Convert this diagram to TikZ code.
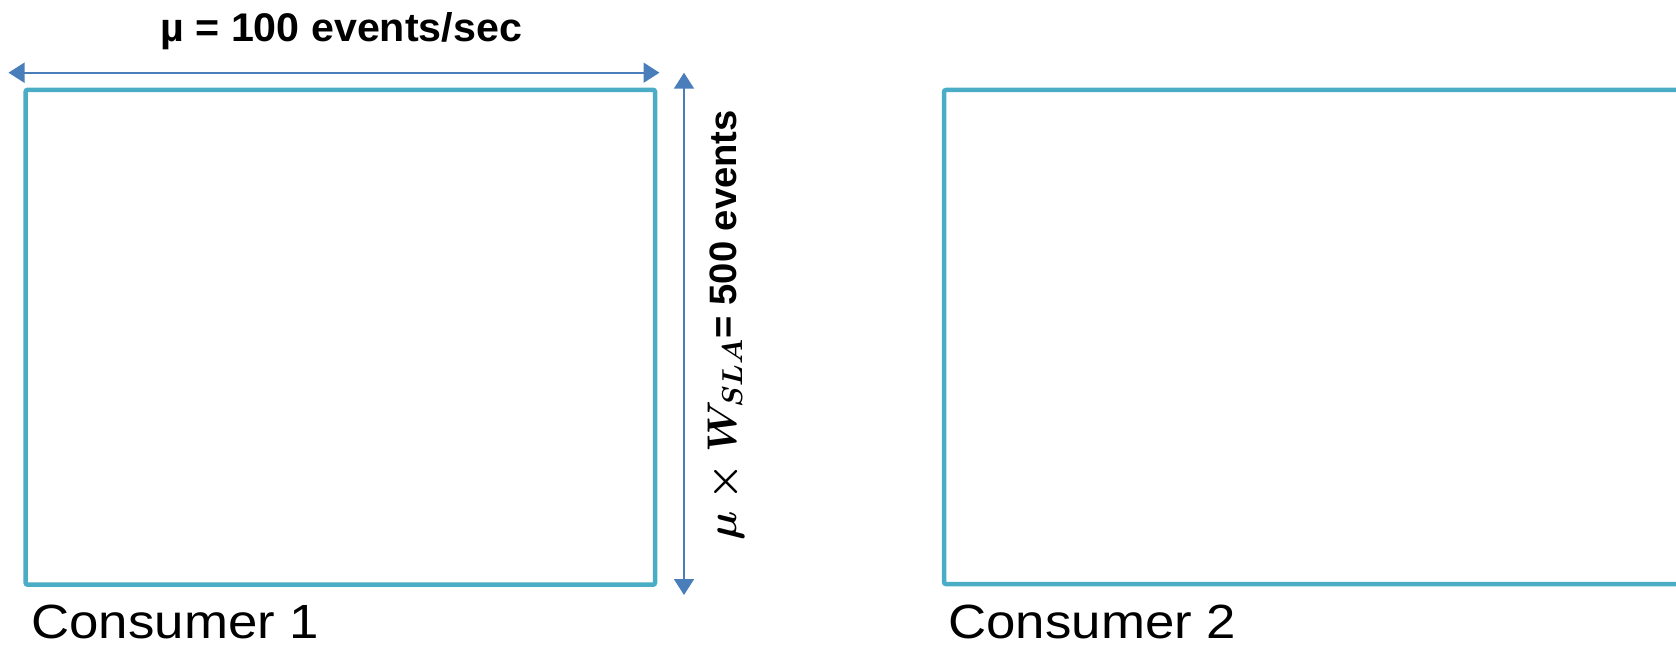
\documentclass[tikz,border=0pt]{standalone}
\usepackage{fontspec}
\setmainfont{Liberation Sans}
\usepackage{amsmath}
\usetikzlibrary{arrows.meta}
\definecolor{boxc}{HTML}{4BACC6}
\definecolor{arrc}{HTML}{4A7EBB}
\newcommand{\wslalabel}{\mbox{\boldmath$\mu\times W_{SLA}$}= 500 events}
\newcommand{\mulabel}{\char"00B5\ = 100 events/sec}
\begin{document}
\begin{tikzpicture}[x=0.5pt,y=-0.5pt,
  consbox/.style={draw=boxc,line width=2.25pt,rectangle,inner sep=0pt,rounded corners=1pt},
  dimline/.style={draw=arrc,line width=0.9pt,{Triangle[length=8pt,width=10pt]}-{Triangle[length=8pt,width=10pt]}},
  lbl/.style={inner sep=0pt,font=\fontsize{20}{22}\selectfont\bfseries},
  cons/.style={inner sep=0pt,anchor=base west,font=\fontsize{24}{28}\selectfont}]
\path[use as bounding box] (0,0) rectangle (1676,647);
\clip (0,0) rectangle (1676,647);
% boxes
\coordinate (b1nw) at (25.7,89.8);
\coordinate (b1se) at (655,584.7);
\draw[consbox] (b1nw) rectangle (b1se);
\coordinate (b2nw) at (944,90);
\coordinate (b2se) at (1700,584);
\draw[consbox] (b2nw) rectangle (b2se);
% dimension arrows
\coordinate (hl) at (8.5,72.7);
\coordinate (hr) at (659.5,72.7);
\coordinate (vt) at (684,72.7);
\coordinate (vb) at (684,595);
\draw[dimline] (hl) -- (hr);
\draw[dimline] (vt) -- (vb);
% labels
\node[lbl,anchor=base west,xscale=1.03] (mu) at (160,42) {\mulabel};
\node[lbl,font=\fontsize{19.1}{22}\selectfont\bfseries,anchor=base west,rotate=90] (wsla) at (736,541) {\wslalabel};
\node[cons,xscale=1.1] (c1) at (31,638) {Consumer 1};
\node[cons,xscale=1.1] (c2) at (948,638) {Consumer 2};
\end{tikzpicture}
\end{document}
